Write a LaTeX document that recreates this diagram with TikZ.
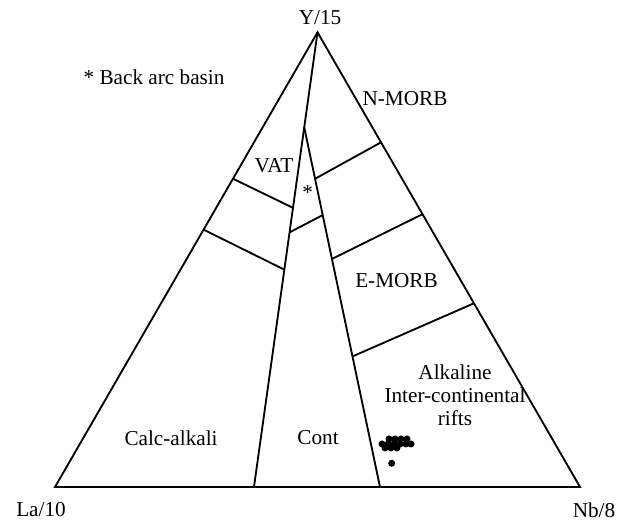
\documentclass[tikz,border=0pt]{standalone}
\usepackage{fontspec}
\setmainfont{Liberation Serif}
\usepackage{tikz}
\usetikzlibrary{calc,positioning}

\begin{document}
\begin{tikzpicture}[line width=1pt,
	lbl/.style={inner sep=0pt,font=\fontsize{11.5}{12.5}\selectfont}]
	\useasboundingbox (-1.048,-0.724) rectangle (10.743,9.276);
	% corners and field boundaries
	\coordinate (La) at (0,0);
	\coordinate (Nb) at (10,0);
	\coordinate (Y) at (5,8.66);
	\coordinate (lb) at (3.79,0);
	\coordinate (rb) at (6.19,0);
	\coordinate (rs) at ($(Y)!0.209!(lb)$);
	\draw (La) -- (Nb) -- (Y) -- cycle;
	\draw (Y) -- (lb);
	\draw (rs) -- (rb);
	\draw ($(Y)!0.322!(La)$) -- ($(Y)!0.386!(lb)$);
	\draw ($(Y)!0.434!(La)$) -- ($(Y)!0.522!(lb)$);
	\draw ($(Y)!0.44!(lb)$) -- ($(rs)!0.244!(rb)$);
	\draw ($(rs)!0.143!(rb)$) -- ($(Y)!0.242!(Nb)$);
	\draw ($(rs)!0.366!(rb)$) -- ($(Y)!0.40!(Nb)$);
	\draw ($(rs)!0.637!(rb)$) -- ($(Y)!0.596!(Nb)$);
	% labels
	\node[lbl] (ylab)  at (5.05,8.95)   {Y/15};
	\node[lbl] (lalab) at (-0.267,-0.438) {La/10};
	\node[lbl] (nblab) at (10.267,-0.438) {Nb/8};
	\node[lbl] (bab)   at (1.886,7.81)  {* Back arc basin};
	\node[lbl] (nmorb) at (6.667,7.39)  {N-MORB};
	\node[lbl] (vat)   at (4.171,6.114) {VAT};
	\node[lbl] (star)  at (4.813,5.60)  {*};
	\node[lbl] (emorb) at (6.505,3.924) {E-MORB};
	\node[lbl,align=center] (alk) at (7.619,1.752) {Alkaline\\Inter-continental\\rifts};
	\node[lbl] (calc)  at (2.21,0.933)  {Calc-alkali};
	\node[lbl] (cont)  at (5.01,0.933)  {Cont};
	% samples
	\foreach \x in {6.362,6.476,6.590,6.705}
	  \fill (\x,0.914) circle [radius=0.067];
	\foreach \x in {6.229,6.343,6.457,6.571,6.686,6.781}
	  \fill (\x,0.819) circle [radius=0.067];
	\foreach \x in {6.286,6.4,6.514}
	  \fill (\x,0.743) circle [radius=0.067];
	\fill (6.413,0.451) circle [radius=0.067];
\end{tikzpicture}
\end{document}
